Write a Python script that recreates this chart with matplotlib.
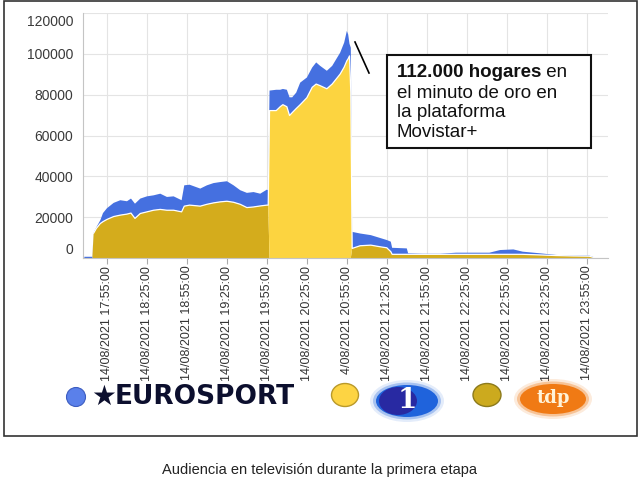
import numpy as np
import matplotlib
matplotlib.use("Agg")
import matplotlib.pyplot as plt
import matplotlib.transforms as mtransforms
from matplotlib import font_manager
from matplotlib.patches import Rectangle, Ellipse
from matplotlib.lines import Line2D

# Audiencia (miles de hogares), minuto a minuto aproximado
times = ["17:38", "17:44", "17:45", "17:47", "17:50", "17:52", "17:55", "18:00", "18:05", "18:10",
         "18:13", "18:16", "18:20", "18:25", "18:30", "18:35", "18:40", "18:45", "18:51", "18:53",
         "18:57", "19:05", "19:10", "19:15", "19:20", "19:25", "19:30", "19:35", "19:40", "19:45",
         "19:50", "19:55", "19:56", "19:57", "20:02", "20:05", "20:07", "20:10", "20:12", "20:14",
         "20:17", "20:20", "20:25", "20:29", "20:32", "20:35", "20:40", "20:44", "20:50", "20:53",
         "20:55", "20:56", "20:57", "20:58", "20:59", "21:05", "21:13", "21:20", "21:25", "21:28",
         "21:29", "21:40", "21:41", "21:52", "22:05", "22:17", "22:30", "22:42", "22:50", "23:00",
         "23:07", "23:20", "23:32", "23:45", "23:57", "00:00"]
tdp = [0, 0, 12.2, 14.5, 16.9, 17.8, 18.9, 20.3, 21.0, 21.5,
       22.0, 19.4, 21.8, 22.6, 23.4, 23.8, 23.4, 23.4, 22.6, 25.4,
       25.9, 25.4, 26.3, 27.0, 27.5, 27.8, 27.3, 26.3, 24.7, 25.0,
       25.5, 25.9, 25.9, 0, 0, 0, 0, 0, 0, 0,
       0, 0, 0, 0, 0, 0, 0, 0, 0, 0,
       0, 0, 0, 0, 4.7, 6.0, 6.3, 5.5, 5.0, 3.1,
       1.8, 1.8, 1.8, 1.8, 1.8, 1.8, 1.8, 1.8, 1.8, 1.8,
       1.8, 1.5, 1.2, 1.0, 0.9, 0.3]
la1 = [0, 0, 0, 0, 0, 0, 0, 0, 0, 0,
       0, 0, 0, 0, 0, 0, 0, 0, 0, 0,
       0, 0, 0, 0, 0, 0, 0, 0, 0, 0,
       0, 0, 0, 72.2, 72.2, 74.1, 75.1, 74.1, 69.8, 71.2,
       73.2, 75.1, 78.5, 83.6, 85.2, 84.4, 82.9, 85.2, 90.1, 93.5,
       96.6, 97.6, 99.0, 81.0, 0, 0, 0, 0, 0, 0,
       0, 0, 0, 0, 0, 0, 0, 0, 0, 0,
       0, 0, 0, 0, 0, 0]
eurosport = [0.6, 0.6, 0.3, 0.5, 1.6, 4.2, 5.5, 6.7, 7.3, 6.3,
             7.1, 7.2, 7.3, 7.6, 7.3, 7.7, 6.5, 6.8, 5.7, 10.2,
             10.0, 8.6, 9.3, 9.7, 9.7, 9.8, 8.3, 6.9, 7.2, 7.3,
             6.0, 7.6, 7.3, 9.8, 10.2, 8.3, 7.7, 8.3, 8.9, 7.5,
             7.8, 10.8, 9.9, 9.7, 10.6, 9.7, 8.8, 8.9, 10.5, 12.0,
             14.6, 11.9, 5.9, 22.0, 8.1, 6.0, 4.9, 4.3, 3.8, 4.9,
             3.2, 2.9, 0.5, 0.3, 0.3, 0.8, 0.8, 0.8, 2.1, 2.4,
             1.3, 0.8, 0.3, 0.2, 0.3, 0.2]

tick_times = ["17:55", "18:25", "18:55", "19:25", "19:55", "20:25", "20:55",
              "21:25", "21:55", "22:25", "22:55", "23:25", "23:55"]
tick_labels = ["14/08/2021 %s:00" % t for t in tick_times]
tick_labels[6] = "4/08/2021 20:55:00"   # the 1 is cut in the original
y_ticks = [0, 20000, 40000, 60000, 80000, 100000, 120000]

BLUE = "#4570e0"
YELLOW = "#fcd440"
GOLD = "#d4ac1c"

W, H = 640, 484


def to_min(t):
    h, m = map(int, t.split(":"))
    if h < 12:
        h += 24     # past midnight
    return h * 60 + m


def fx(px):
    return px / W


def fy(py):
    return 1 - py / H


names = {f.name for f in font_manager.fontManager.ttflist}
narrow = "Liberation Sans Narrow" if "Liberation Sans Narrow" in names else "Liberation Sans"
tick_size = 10.5 if narrow == "Liberation Sans Narrow" else 9

x = np.array([to_min(t) for t in times])
tdp_v = np.array(tdp) * 1000
la1_v = np.array(la1) * 1000
euro_v = np.array(eurosport) * 1000

fig = plt.figure(figsize=(W / 100, H / 100), dpi=100)
ax = fig.add_axes([fx(83), fy(258), (608 - 83) / W, (258 - 13) / H])

ax.stackplot(x, tdp_v, la1_v, euro_v, colors=[GOLD, YELLOW, BLUE], lw=0)
bottom = np.ma.masked_where(tdp_v + la1_v <= 0, tdp_v + la1_v)
ax.plot(x, bottom, color="white", lw=0.9)

ax.set_xlim(to_min("17:37"), to_min("00:11"))
ax.set_ylim(0, 120000)
ax.set_xticks([to_min(t) for t in tick_times])
ax.set_xticklabels(tick_labels, rotation=90, family=narrow, fontsize=tick_size, color="#333333")
ax.set_yticks(y_ticks)
ax.set_yticklabels([str(v) for v in y_ticks], family="Liberation Sans", fontsize=10, color="#3a3a3a")
ax.tick_params(axis="y", length=0, pad=7)
ax.tick_params(axis="x", length=4, color="#aaaaaa", pad=1.5)
ax.grid(True, color="#e4e4e4", lw=0.8)
ax.set_axisbelow(True)
for s in ["top", "right"]:
    ax.spines[s].set_visible(False)
for s in ["left", "bottom"]:
    ax.spines[s].set_color("#c4c4c4")
    ax.spines[s].set_linewidth(0.8)

# the 0 and 120000 labels sit a bit off their gridlines in the original
ylabs = ax.get_yticklabels()
ylabs[0].set_transform(ylabs[0].get_transform() + mtransforms.ScaledTranslation(0, 0.09, fig.dpi_scale_trans))
ylabs[-1].set_transform(ylabs[-1].get_transform() + mtransforms.ScaledTranslation(0, -0.08, fig.dpi_scale_trans))

# annotation box
fig.add_artist(Line2D([fx(355), fx(369)], [fy(42), fy(73)], color="black", lw=1.2))
fig.add_artist(Rectangle((fx(386.7), fy(148.3)), (590.7 - 386.7) / W, (148.3 - 55) / H,
                         transform=fig.transFigure, facecolor="white", edgecolor="#111111", lw=1.5))
t1 = fig.text(fx(396.7), fy(76.7), "112.000 hogares", fontsize=13.5, weight="bold",
              family="Liberation Sans", va="baseline", color="#111111")
renderer = fig.canvas.get_renderer()
bb = t1.get_window_extent(renderer)
fig.text(bb.x1 / W, fy(76.7), " en", fontsize=13.5, family="Liberation Sans", va="baseline", color="#111111")
for txt, py in [("el minuto de oro en", 97.7), ("la plataforma", 117.3), ("Movistar+", 137.3)]:
    fig.text(fx(396.7), fy(py), txt, fontsize=13.5, family="Liberation Sans", va="baseline", color="#111111")

# legend row with channel logos
fig.add_artist(Ellipse((fx(76), fy(397)), 19 / W, 19 / H, transform=fig.transFigure,
                       facecolor="#5a80ea", edgecolor="#3c5cc0", lw=0.8))
fig.text(fx(104), fy(397), "\u2605", fontsize=20, color="#0c0f2e", ha="center", va="center",
         family="DejaVu Sans")
fig.text(fx(115), fy(397), "EUROSPORT", fontsize=19, weight="bold", color="#0c0f2e",
         va="center", family="DejaVu Sans")

fig.add_artist(Ellipse((fx(345), fy(395)), 27 / W, 23 / H, transform=fig.transFigure,
                       facecolor="#fdd443", edgecolor="#b9992a", lw=1))
for w, h, a in [(74, 42, 0.12), (68, 37, 0.3), (62, 32, 1.0)]:
    fig.add_artist(Ellipse((fx(407), fy(401)), w / W, h / H, transform=fig.transFigure,
                           facecolor="#1f63dc", edgecolor="none", alpha=a))
fig.add_artist(Ellipse((fx(398), fy(401)), 38 / W, 28 / H, transform=fig.transFigure,
                       facecolor="#2a1f98", edgecolor="none", alpha=0.85))
fig.text(fx(407), fy(401), "1", fontsize=20, weight="bold", color="white", ha="center",
         va="center", family="DejaVu Serif")

fig.add_artist(Ellipse((fx(487), fy(395)), 28 / W, 23 / H, transform=fig.transFigure,
                       facecolor="#ccaa1e", edgecolor="#8c7a1c", lw=1))
for w, h, a in [(78, 40, 0.15), (72, 35, 0.35), (66, 30, 1.0)]:
    fig.add_artist(Ellipse((fx(553), fy(399)), w / W, h / H, transform=fig.transFigure,
                           facecolor="#f07a14", edgecolor="none", alpha=a))
fig.text(fx(553), fy(398), "tdp", fontsize=13, weight="bold", color="#fff3d8", ha="center",
         va="center", family="DejaVu Serif")

# frame around the chart and caption below
fig.add_artist(Rectangle((fx(3.5), fy(435.5)), 633 / W, 434.5 / H, transform=fig.transFigure,
                         facecolor="none", edgecolor="#333333", lw=1.2))
fig.text(0.5, fy(470), "Audiencia en televisión durante la primera etapa", ha="center", va="center",
         fontsize=10.5, family="Liberation Sans", color="#222222")

fig.savefig("out.png", dpi=100)
